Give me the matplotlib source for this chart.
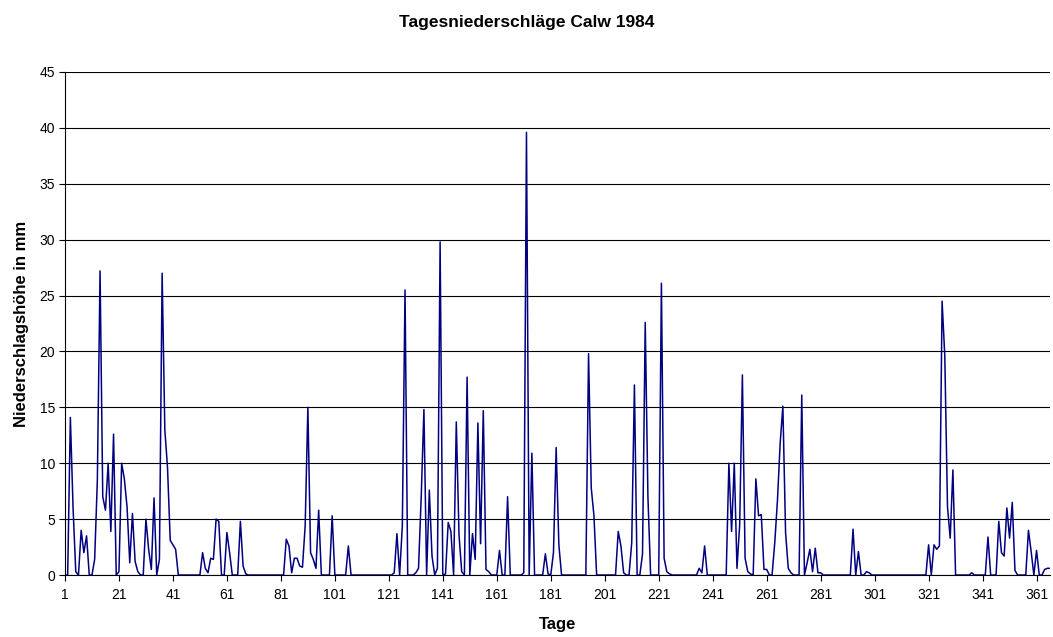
import matplotlib
matplotlib.use("Agg")
import matplotlib.pyplot as plt
import numpy as np

plt.rcParams['font.family'] = ['Liberation Sans', 'DejaVu Sans']

# days with rain (day of year) and amount in mm; all other days are 0
rain_days = [3, 4, 5, 7, 8, 9, 12, 13, 14, 15, 16, 17, 18, 19, 21, 22, 23, 24, 25,
             26, 27, 28, 31, 32, 33, 34, 36, 37, 38, 39, 40, 41, 42,
             52, 53, 54, 55, 56, 57, 58, 61, 62, 66, 67, 68,
             83, 84, 85, 86, 87, 88, 89, 90, 91, 92, 93, 94, 95, 100, 106,
             123, 124, 126, 127, 131, 132, 133, 134, 136, 137, 139, 140, 142, 143,
             144, 146, 147, 148, 150, 152, 153, 154, 155, 156, 157, 158, 162, 165,
             171, 172, 174, 179, 180, 182, 183, 184,
             195, 196, 197, 206, 207, 208, 211, 212, 215, 216, 217, 222, 223, 224, 225,
             236, 237, 238, 247, 248, 249, 250, 251, 252, 253, 254, 255, 257, 258,
             259, 260, 261, 264, 265, 266, 267, 268, 269, 270, 274, 276, 277, 278,
             279, 280, 281,
             293, 295, 298, 299,
             321, 323, 324, 325, 326, 327, 328, 329, 330, 337, 343, 347, 348, 349,
             350, 351, 352, 353, 358, 359, 361, 364, 365, 366]
rain_mm = [14.1, 6.0, 0.3, 4.0, 2.0, 3.5, 1.4, 8.5, 27.2, 7.0, 5.8, 10.0, 3.9, 12.6, 0.3, 10.0, 8.6, 6.1, 1.1,
           5.5, 1.2, 0.3, 5.0, 2.3, 0.5, 6.9, 1.4, 27.0, 13.0, 9.6, 3.1, 2.7, 2.3,
           2.0, 0.6, 0.2, 1.5, 1.4, 5.0, 4.8, 3.8, 2.0, 4.8, 0.8, 0.1,
           3.2, 2.6, 0.2, 1.5, 1.5, 0.8, 0.7, 4.4, 15.0, 2.0, 1.4, 0.6, 5.8, 5.3, 2.6,
           0.2, 3.7, 4.4, 25.5, 0.2, 0.6, 7.0, 14.8, 7.6, 1.7, 0.6, 29.8, 0.1, 4.7,
           3.9, 13.7, 3.6, 0.3, 17.7, 3.7, 1.4, 13.6, 2.8, 14.7, 0.5, 0.3, 2.2, 7.0,
           0.2, 39.6, 10.9, 1.9, 0.1, 2.0, 11.4, 2.7,
           19.8, 7.8, 5.3, 3.9, 2.6, 0.2, 2.9, 17.0, 1.9, 22.6, 7.0, 26.1, 1.5, 0.3, 0.1,
           0.6, 0.2, 2.6, 10.0, 3.9, 10.0, 0.6, 4.5, 17.9, 1.5, 0.3, 0.1, 8.6, 5.3,
           5.4, 0.5, 0.5, 2.9, 6.7, 11.8, 15.1, 3.8, 0.6, 0.2, 16.1, 1.1, 2.3, 0.3,
           2.4, 0.2, 0.2,
           4.1, 2.1, 0.3, 0.2,
           2.7, 2.7, 2.3, 2.6, 24.5, 19.6, 6.1, 3.3, 9.4, 0.2, 3.4, 4.8, 2.0, 1.7,
           6.0, 3.3, 6.5, 0.4, 4.0, 2.1, 2.2, 0.5, 0.6, 0.6]

days = np.arange(1, 367)
values = np.zeros(len(days))
values[np.array(rain_days) - 1] = rain_mm

x_ticks = np.arange(1, 362, 20)
y_ticks = np.arange(0, 46, 5)

fig = plt.figure(figsize=(10.53, 6.37), dpi=100)
ax = fig.add_axes([0.0617, 0.0973, 0.9355, 0.7897])

ax.plot(days, values, color="#000080", linewidth=1.1)

ax.set_xlim(1, 366)
ax.set_ylim(0, 45)
ax.set_xticks(x_ticks)
ax.set_yticks(y_ticks)
ax.tick_params(labelsize=10, direction="out", length=4, width=0.8)
ax.tick_params(axis="x", pad=5)
ax.tick_params(axis="y", pad=3)
ax.yaxis.grid(True, color="black", linewidth=0.8)
ax.set_axisbelow(True)

for side in ["top", "right"]:
    ax.spines[side].set_visible(False)
for side in ["left", "bottom"]:
    ax.spines[side].set_linewidth(0.8)

fig.text(0.5, 1 - 27 / 637, "Tagesniederschläge Calw 1984", ha="center", va="baseline",
         fontsize=12.5, fontweight="bold")
ax.set_xlabel("Tage", fontsize=12, fontweight="bold", labelpad=11)
ax.set_ylabel("Niederschlagshöhe in mm", fontsize=12, fontweight="bold", labelpad=8)

fig.savefig("out.png", dpi=100)
